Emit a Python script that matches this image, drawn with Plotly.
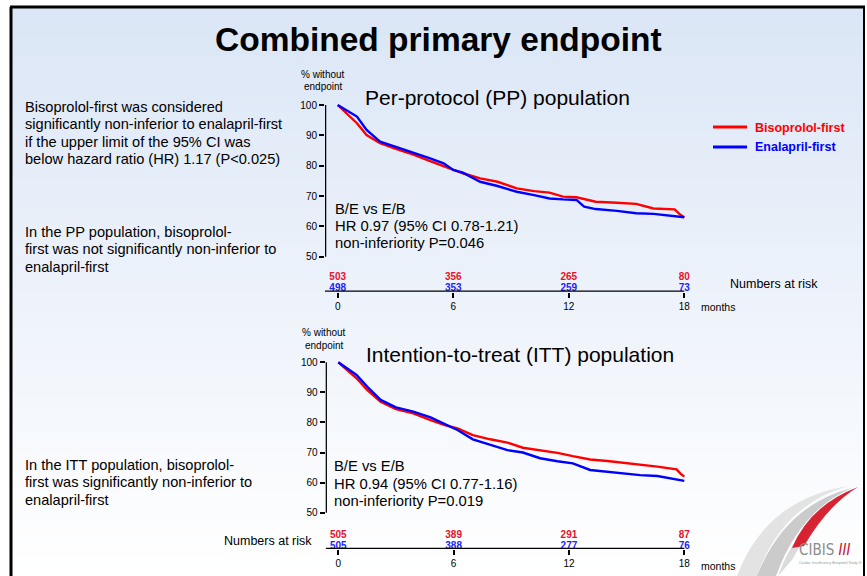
import plotly.graph_objects as go

W, H = 867, 576
FONT = "Liberation Sans, Arial, sans-serif"
RED = "#ff0000"
BLUE = "#0000ff"
NUM_RED = "#e8102e"
NUM_BLUE = "#2222ff"

# ---------------- data ----------------
pp_months = [0, 1.0, 1.5, 2.2, 3.1, 3.9, 4.8, 5.5, 6.0, 6.5, 7.4, 8.3, 9.3, 10.2, 11.0, 11.7,
             12.4, 12.8, 13.4, 14.5, 15.5, 16.4, 17.5, 17.8, 18]
pp_bisoprolol = [100, 94.0, 90.1, 87.4, 85.4, 83.7, 81.5, 79.9, 78.8, 77.5, 75.8, 74.7, 72.5,
                 71.6, 71.1, 69.8, 69.6, 68.9, 68.1, 67.8, 67.4, 65.9, 65.6, 63.8, 63.0]
pp_enalapril = [100, 96.2, 91.8, 87.9, 86.0, 84.4, 82.4, 80.8, 78.6, 77.7, 74.7, 73.3, 71.4,
                70.3, 69.2, 68.9, 68.7, 66.5, 65.7, 65.1, 64.3, 64.1, 63.2, 63.1, 63.0]

itt_months = [0, 0.95, 1.5, 2.2, 3.0, 3.9, 4.8, 5.5, 6.2, 7.0, 7.9, 8.8, 9.6, 10.5, 11.4, 12.2,
              13.1, 14.0, 14.8, 15.7, 16.6, 17.6, 17.8, 18]
itt_bisoprolol = [100, 94.7, 90.8, 86.9, 84.4, 83.0, 80.8, 79.2, 78.0, 75.8, 74.4, 73.3, 71.6,
                  70.8, 69.9, 68.8, 67.7, 67.2, 66.6, 66.1, 65.3, 64.4, 63.0, 62.0]
itt_enalapril = [100, 95.8, 91.9, 87.5, 85.0, 83.6, 81.7, 79.5, 77.5, 74.4, 72.5, 70.8, 70.0,
                 68.1, 67.1, 66.4, 64.2, 63.6, 63.1, 62.5, 62.2, 60.9, 60.8, 60.6]

risk_months = [0, 6, 12, 18]
pp_risk_bisoprolol = [503, 356, 265, 80]
pp_risk_enalapril = [498, 353, 259, 73]
itt_risk_bisoprolol = [505, 389, 291, 87]
itt_risk_enalapril = [505, 388, 277, 76]

y_ticks = [50, 60, 70, 80, 90, 100]
x_ticks = [0, 6, 12, 18]

title_text = "Combined primary endpoint"
pp_title = "Per-protocol (PP) population"
itt_title = "Intention-to-treat (ITT) population"
pp_stats = ["B/E vs E/B", "HR 0.97 (95% CI 0.78-1.21)", "non-inferiority P=0.046"]
itt_stats = ["B/E vs E/B", "HR 0.94 (95% CI 0.77-1.16)", "non-inferiority P=0.019"]
left_block1 = ["Bisoprolol-first was considered", "significantly non-inferior to enalapril-first",
               "if the upper limit of the 95% CI was", "below hazard ratio (HR) 1.17 (P<0.025)"]
left_block2 = ["In the PP population, bisoprolol-", "first was not significantly non-inferior to",
               "enalapril-first"]
left_block3 = ["In the ITT population, bisoprolol-", "first was significantly non-inferior to",
               "enalapril-first"]
series_names = ["Bisoprolol-first", "Enalapril-first"]


def px(x):
    return x / W


def py(y):
    return 1 - y / H


def panel_geometry(x0px, x18px, axis_left_px, y100px, y50px, axis_bottom_px, right_px, top_px):
    mx = (x18px - x0px) / 18.0
    my = (y50px - y100px) / 50.0
    xr = [-(x0px - axis_left_px) / mx, 18 + (right_px - x18px) / mx]
    yr = [50 - (axis_bottom_px - y50px) / my, 100 + (y100px - top_px) / my]
    xdom = [px(axis_left_px), px(right_px)]
    ydom = [py(axis_bottom_px), py(top_px)]
    return xr, yr, xdom, ydom, my, y50px


fig = go.Figure()

# panel geometry (pixels in the 867x576 frame)
pp_geo = panel_geometry(337.7, 684.3, 325.0, 105.0, 256.7, 291.7, 692.0, 95.0)
itt_geo = panel_geometry(338.3, 684.3, 325.7, 362.3, 512.7, 549.0, 692.0, 352.0)

panels = [
    dict(geo=pp_geo, xa="x", ya="y", months=pp_months, b=pp_bisoprolol, e=pp_enalapril,
         rb=pp_risk_bisoprolol, re=pp_risk_enalapril, risk_px=(277.5, 288.0)),
    dict(geo=itt_geo, xa="x2", ya="y2", months=itt_months, b=itt_bisoprolol, e=itt_enalapril,
         rb=itt_risk_bisoprolol, re=itt_risk_enalapril, risk_px=(535.5, 546.0)),
]

shapes = []

# background gradient (light blue at top to white at bottom)
n_bands = 60
top_c = (219, 230, 246)
bot_c = (255, 255, 255)
for i in range(n_bands):
    y0 = 8 + (H - 8) * i / n_bands
    y1 = 8 + (H - 8) * (i + 1) / n_bands + 1
    t = i / (n_bands - 1)
    c = tuple(round(top_c[k] + (bot_c[k] - top_c[k]) * t) for k in range(3))
    shapes.append(dict(type="rect", xref="paper", yref="paper", x0=px(12), x1=px(864),
                       y0=py(min(y1, H)), y1=py(y0), line=dict(width=0),
                       fillcolor="rgb(%d,%d,%d)" % c, layer="below"))

# slide frame
shapes.append(dict(type="line", xref="paper", yref="paper", x0=px(11), x1=px(11), y0=py(H), y1=py(7),
                   line=dict(color="black", width=3)))
shapes.append(dict(type="line", xref="paper", yref="paper", x0=px(10), x1=px(865), y0=py(7), y1=py(7),
                   line=dict(color="black", width=3)))
shapes.append(dict(type="line", xref="paper", yref="paper", x0=px(864), x1=px(864), y0=py(H), y1=py(7),
                   line=dict(color="black", width=2)))

for p in panels:
    xr, yr, xdom, ydom, my, y50px = p["geo"]
    xa, ya = p["xa"], p["ya"]
    fig.add_trace(go.Scatter(x=p["months"], y=p["b"], mode="lines", xaxis=xa, yaxis=ya,
                             line=dict(color=RED, width=2.4), name=series_names[0], showlegend=False))
    fig.add_trace(go.Scatter(x=p["months"], y=p["e"], mode="lines", xaxis=xa, yaxis=ya,
                             line=dict(color=BLUE, width=2.4), name=series_names[1], showlegend=False))
    # numbers at risk
    ry_b = 50 - (p["risk_px"][0] - y50px) / my
    ry_e = 50 - (p["risk_px"][1] - y50px) / my
    fig.add_trace(go.Scatter(x=risk_months, y=[ry_b] * 4, mode="text", text=[str(v) for v in p["rb"]],
                             textfont=dict(color=NUM_RED, size=10, family=FONT, weight="bold"),
                             xaxis=xa, yaxis=ya, showlegend=False, cliponaxis=False, hoverinfo="skip"))
    fig.add_trace(go.Scatter(x=risk_months, y=[ry_e] * 4, mode="text", text=[str(v) for v in p["re"]],
                             textfont=dict(color=NUM_BLUE, size=10, family=FONT, weight="bold"),
                             xaxis=xa, yaxis=ya, showlegend=False, cliponaxis=False, hoverinfo="skip"))
    # axis lines
    shapes.append(dict(type="line", xref=xa, yref=ya, x0=xr[0], x1=18, y0=yr[0], y1=yr[0],
                       line=dict(color="black", width=2.5)))
    shapes.append(dict(type="line", xref=xa, yref=ya, x0=xr[0], x1=xr[0], y0=50, y1=100,
                       line=dict(color="black", width=2.5)))
    shapes.append(dict(type="line", xref=xa, yref=ya, x0=xr[0] - 0.1, x1=xr[0] - 0.1, y0=yr[0], y1=50,
                       line=dict(color="black", width=1, dash="dot")))

axis_common = dict(showgrid=False, zeroline=False, showline=False, ticks="outside", ticklen=5,
                   tickwidth=2, tickcolor="black", tickfont=dict(family=FONT, size=10, color="black"),
                   fixedrange=True)

fig.update_layout(
    xaxis=dict(domain=pp_geo[2], range=pp_geo[0], anchor="y", tickvals=x_ticks, **axis_common),
    yaxis=dict(domain=pp_geo[3], range=pp_geo[1], anchor="x", tickvals=y_ticks, **axis_common),
    xaxis2=dict(domain=itt_geo[2], range=itt_geo[0], anchor="y2", tickvals=x_ticks, **axis_common),
    yaxis2=dict(domain=itt_geo[3], range=itt_geo[1], anchor="x2", tickvals=y_ticks, **axis_common),
)

ann = []


def text(x, y, s, size, color="black", bold=False, xanchor="left"):
    ann.append(dict(xref="paper", yref="paper", x=px(x), y=py(y), text=("<b>%s</b>" % s) if bold else s,
                    showarrow=False, xanchor=xanchor, yanchor="middle",
                    font=dict(family=FONT, size=size, color=color)))


text(438, 40, title_text, 33.5, bold=True, xanchor="center")
text(497, 97, pp_title, 21, xanchor="center")
text(520, 354, itt_title, 21, xanchor="center")

for i, s in enumerate(pp_stats):
    text(333, 209 + 17 * i, s, 14.8)
for i, s in enumerate(itt_stats):
    text(332, 466 + 17.5 * i, s, 14.8)

for i, s in enumerate(left_block1):
    text(23, 107 + 17.3 * i, s, 14.6)
for i, s in enumerate(left_block2):
    text(23, 232 + 17.3 * i, s, 14.6)
for i, s in enumerate(left_block3):
    text(23, 465 + 17.3 * i, s, 14.6)

text(323, 74, "% without", 10, xanchor="center")
text(323, 87, "endpoint", 10, xanchor="center")
text(324, 332, "% without", 10, xanchor="center")
text(324, 345, "endpoint", 10, xanchor="center")

text(728, 284, "Numbers at risk", 12.5)
text(222, 541, "Numbers at risk", 12.5)
text(699, 307, "months", 10.5)
text(699, 566, "months", 10.5)

# legend
shapes.append(dict(type="line", xref="paper", yref="paper", x0=px(713), x1=px(747), y0=py(127), y1=py(127),
                   line=dict(color=RED, width=3)))
shapes.append(dict(type="line", xref="paper", yref="paper", x0=px(713), x1=px(747), y0=py(147), y1=py(147),
                   line=dict(color=BLUE, width=3)))
text(753, 128, series_names[0], 12.5, color=RED, bold=True)
text(753, 147, series_names[1], 12.5, color=BLUE, bold=True)


# logo (CIBIS III)
def path(points_cmds):
    out = []
    for cmd, pts in points_cmds:
        coords = " ".join("%.5f,%.5f" % (px(a), py(b)) for a, b in pts)
        out.append(cmd + " " + coords if coords else cmd)
    return " ".join(out)


logo_paths = [
    ([("M", [(737, 576)]), ("Q", [(765, 500), (848, 486)]), ("Q", [(782, 505), (757, 576)]), ("Z", [])],
     "rgba(222,222,222,0.85)"),
    ([("M", [(757, 576)]), ("Q", [(785, 505), (852, 488)]), ("Q", [(800, 510), (776, 576)]), ("Z", [])],
     "rgba(190,190,190,0.8)"),
    ([("M", [(778, 576)]), ("Q", [(800, 515), (854, 490)]), ("Q", [(815, 515), (792, 560)]), ("Z", [])],
     "rgba(210,210,210,0.8)"),
    ([("M", [(792, 548)]), ("Q", [(810, 505), (858, 487)]), ("Q", [(828, 505), (804, 546)]), ("Z", [])],
     "rgba(215,25,40,0.95)"),
]
for cmds, col in logo_paths:
    shapes.append(dict(type="path", xref="paper", yref="paper", path=path(cmds), fillcolor=col,
                       line=dict(width=0)))

ann.append(dict(xref="paper", yref="paper", x=px(824), y=py(550), showarrow=False, xanchor="center",
                yanchor="middle", text="CIBIS <span style='color:#c8102e'><i>III</i></span>",
                font=dict(family="DejaVu Sans Condensed, " + FONT, size=15, color="#8c8c8c")))
ann.append(dict(xref="paper", yref="paper", x=px(830), y=py(563), showarrow=False, xanchor="center",
                yanchor="middle", text="Cardiac Insufficiency Bisoprolol Study III",
                font=dict(family=FONT, size=3.5, color="#999999")))

fig.update_layout(
    width=W, height=H, margin=dict(l=0, r=0, t=0, b=0),
    paper_bgcolor="white", plot_bgcolor="rgba(0,0,0,0)",
    shapes=shapes, annotations=ann, showlegend=False,
    font=dict(family=FONT), hovermode=False,
)

fig.write_html("out.html", config={"displayModeBar": False, "staticPlot": True},
               post_script="document.body.style.margin='0px';document.body.style.padding='0px';"
                           "document.body.style.overflow='hidden';")
